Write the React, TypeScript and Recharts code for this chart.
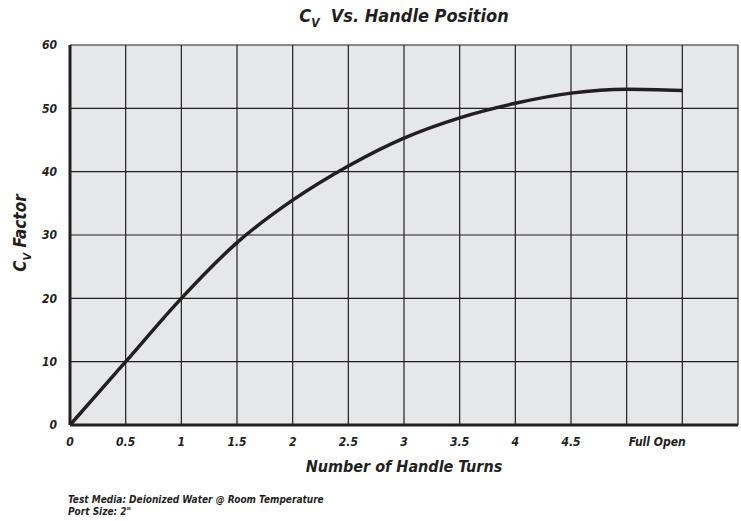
import React from "react";
import { LineChart, Line, XAxis, YAxis, CartesianGrid } from "recharts";

const TURNS = [0, 0.5, 1, 1.5, 2, 2.5, 3, 3.5, 4, 4.5, 5, 5.5];
const CV = [0, 10, 20, 28.8, 35.5, 40.9, 45.3, 48.5, 50.8, 52.4, 53.0, 52.8];

const X_TICKS = [0, 0.5, 1, 1.5, 2, 2.5, 3, 3.5, 4, 4.5, 5, 5.5, 6];
const X_LABELS = ["0", "0.5", "1", "1.5", "2", "2.5", "3", "3.5", "4", "4.5", "Full Open", "", ""];
const Y_TICKS = [0, 10, 20, 30, 40, 50, 60];

const FONT = "'Liberation Sans Narrow', 'DejaVu Sans Condensed', 'Arial Narrow', sans-serif";
const INK = "#231f20";

const data = TURNS.map((t, i) => ({ turns: t, cv: CV[i] }));

function XTick(props: any) {
  const { x, y, payload } = props;
  const idx = X_TICKS.indexOf(payload.value);
  const text = X_LABELS[idx] ?? "";
  const isFull = text === "Full Open";
  return (
    <text
      x={isFull ? x + 2 : x}
      y={y}
      dy="0.71em"
      textAnchor={isFull ? "start" : "middle"}
      fill={INK}
      fontSize={12}
      fontStyle="italic"
      fontWeight="bold"
      fontFamily={FONT}
    >
      {text}
    </text>
  );
}

const tickStyle = { fontSize: 12, fontStyle: "italic", fontWeight: "bold", fontFamily: FONT, fill: INK };

export default function App() {
  return (
    <div style={{ position: "absolute", left: 0, top: 0, width: 741, height: 521, background: "#fff", fontFamily: FONT, color: INK }}>
      <LineChart width={741} height={521} data={data} margin={{ top: 45, right: 3, bottom: 76, left: 0 }}>
        <CartesianGrid stroke={INK} strokeWidth={1.2} fill="#e6e7e8" fillOpacity={1} />
        <XAxis
          dataKey="turns"
          type="number"
          domain={[0, 6]}
          ticks={X_TICKS}
          interval={0}
          tick={<XTick />}
          tickLine={false}
          tickSize={0}
          tickMargin={12}
          axisLine={{ stroke: INK, strokeWidth: 3 }}
          height={20}
        />
        <XAxis xAxisId="top" orientation="top" type="number" domain={[0, 6]} tick={false} tickLine={false} height={0} axisLine={{ stroke: INK, strokeWidth: 2 }} />
        <YAxis
          type="number"
          domain={[0, 60]}
          ticks={Y_TICKS}
          interval={0}
          width={70}
          tick={tickStyle}
          tickLine={false}
          tickSize={0}
          tickMargin={13}
          axisLine={{ stroke: INK, strokeWidth: 3 }}
        />
        <YAxis yAxisId="right" orientation="right" type="number" domain={[0, 60]} tick={false} tickLine={false} width={0} axisLine={{ stroke: INK, strokeWidth: 3 }} />
        <Line
          type="monotone"
          dataKey="cv"
          stroke={INK}
          strokeWidth={3.5}
          dot={false}
          isAnimationActive={false}
        />
      </LineChart>

      <div style={{ position: "absolute", left: 0, width: 808, top: 5, textAlign: "center", fontSize: 18, fontStyle: "italic", fontWeight: "bold" }}>
        C<sub style={{ fontSize: 12 }}>V</sub>&nbsp; Vs. Handle Position
      </div>
      <div
        style={{
          position: "absolute",
          left: 22,
          top: 233,
          transform: "translate(-50%, -50%) rotate(-90deg)",
          whiteSpace: "nowrap",
          fontSize: 17,
          fontStyle: "italic",
          fontWeight: "bold",
        }}
      >
        C<sub style={{ fontSize: 11 }}>V</sub> Factor
      </div>
      <div style={{ position: "absolute", left: 0, width: 808, top: 457, textAlign: "center", fontSize: 16, fontStyle: "italic", fontWeight: "bold" }}>
        Number of Handle Turns
      </div>
      <div style={{ position: "absolute", left: 68, top: 494, fontSize: 10, fontStyle: "italic", fontWeight: "bold", lineHeight: "12px" }}>
        <div>Test Media: Deionized Water @ Room Temperature</div>
        <div>Port Size: 2"</div>
      </div>
    </div>
  );
}
